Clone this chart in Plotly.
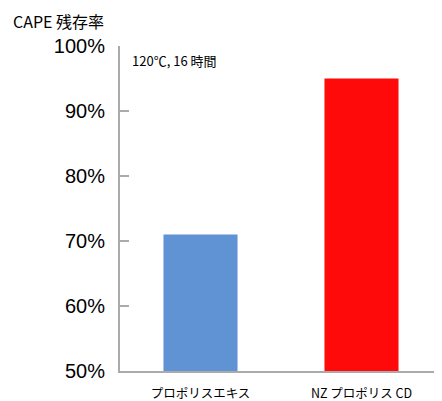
import plotly.graph_objects as go

categories = ['プロポリスエキス', 'NZ プロポリス CD']
values = [71, 95]
bar_colors = ['#5f93d4', '#ff0a0a']
y_ticks = [50, 60, 70, 80, 90, 100]
y_tick_labels = ['50%', '60%', '70%', '80%', '90%', '100%']

# the page body adds 8px around the plot div, so the figure is 8px smaller
fig = go.Figure(go.Bar(
    x=categories,
    y=values,
    marker_color=bar_colors,
    marker_line_width=0,
    width=0.46,
))

fig.update_layout(
    width=434, height=393,
    margin=dict(l=112, r=0, t=38, b=30),
    plot_bgcolor='white', paper_bgcolor='white',
    font=dict(family='Liberation Sans, Arial, Noto Sans CJK JP', color='black'),
    showlegend=False,
    bargap=0.54,
)

fig.update_yaxes(
    range=[50, 100],
    tickvals=y_ticks, ticktext=y_tick_labels,
    tickfont=dict(size=20),
    ticks='inside', ticklen=9, tickwidth=2, tickcolor='#aaaaaa',
    showline=True, linecolor='#aaaaaa', linewidth=2,
    showgrid=False, zeroline=False,
    ticklabelstandoff=9,
    automargin=False,
)
fig.update_xaxes(
    tickfont=dict(size=12.5, family='Noto Sans CJK JP'),
    showline=True, linecolor='#aaaaaa', linewidth=2,
    ticks='', showgrid=False,
    ticklabelstandoff=10,
    automargin=False,
)

fig.add_annotation(
    text='CAPE 残存率', xref='paper', yref='paper',
    x=-109/322, y=1 + 25/325, xanchor='left', yanchor='middle',
    showarrow=False, font=dict(size=16, family='Noto Sans CJK JP'),
)
fig.add_annotation(
    text='120℃, 16 時間', xref='paper', yref='paper',
    x=10/322, y=1 - 14/325, xanchor='left', yanchor='middle',
    showarrow=False, font=dict(size=13, family='Noto Sans CJK JP'),
)

fig.write_html('out.html')
